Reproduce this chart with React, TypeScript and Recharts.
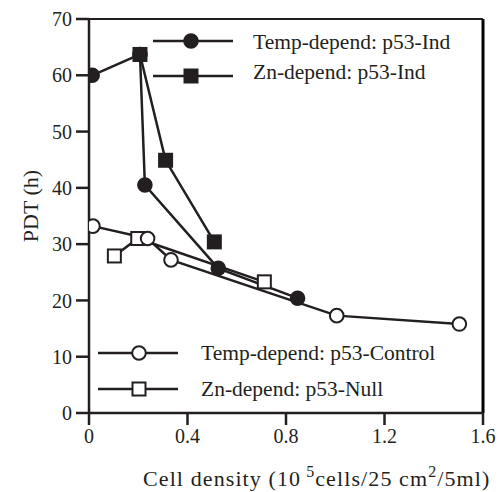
import React from "react";
import { LineChart, Line, XAxis, YAxis, ReferenceLine, Label } from "recharts";

const INK = "#231f20";
const FONT = "Liberation Serif";

// Temp-depend: p53-Ind (filled circles)
const tempIndX = [0.013, 0.207, 0.227, 0.525, 0.847];
const tempIndY = [60, 63.7, 40.5, 25.7, 20.4];
// Zn-depend: p53-Ind (filled squares)
const znIndX = [0.207, 0.311, 0.509];
const znIndY = [63.7, 44.9, 30.4];
// Temp-depend: p53-Control (open circles)
const tempCtlX = [0.016, 0.238, 0.333, 1.006, 1.504];
const tempCtlY = [33.2, 31.0, 27.2, 17.3, 15.8];
// Zn-depend: p53-Null (open squares)
const znNullX = [0.103, 0.198, 0.712];
const znNullY = [27.9, 31.0, 23.3];

const xTicks = [0, 0.4, 0.8, 1.2, 1.6];
const yTicks = [0, 10, 20, 30, 40, 50, 60, 70];

const zip = (xs: number[], ys: number[]) => xs.map((x, i) => ({ x, y: ys[i] }));

const W = 498;
const H = 492;

type Shape = "circle" | "square";

const Marker = ({ cx, cy, shape, filled }: { cx: number; cy: number; shape: Shape; filled: boolean }) => {
  const fill = filled ? INK : "#ffffff";
  if (shape === "circle") {
    return <circle cx={cx} cy={cy} r={6.8} fill={fill} stroke={INK} strokeWidth={2} />;
  }
  return <rect x={cx - 6.5} y={cy - 6.5} width={13} height={13} fill={fill} stroke={INK} strokeWidth={2} />;
};

const makeDot = (shape: Shape, filled: boolean) => (props: any) => {
  const { cx, cy, index } = props;
  if (cx == null || cy == null) return <g key={index} />;
  return (
    <g key={`${shape}-${filled}-${index}`}>
      <Marker cx={cx} cy={cy} shape={shape} filled={filled} />
    </g>
  );
};

const legendTop = [
  { name: "Temp-depend: p53-Ind", shape: "circle" as Shape, filled: true },
  { name: "Zn-depend: p53-Ind", shape: "square" as Shape, filled: true },
];
const legendBottom = [
  { name: "Temp-depend: p53-Control", shape: "circle" as Shape, filled: false },
  { name: "Zn-depend: p53-Null", shape: "square" as Shape, filled: false },
];

const XLabel = (props: any) => {
  return (
    <text x={143} y={486} fill={INK} fontFamily={FONT} fontSize={22} letterSpacing={1.1}>
      <tspan>Cell density (10</tspan>
      <tspan dx={5} dy={-9} fontSize={16}>5</tspan>
      <tspan dy={9}>cells/25 cm</tspan>
      <tspan dy={-9} fontSize={16}>2</tspan>
      <tspan dy={9}>/5ml)</tspan>
    </text>
  );
};

const LegendOverlay = () => {
  const top = [41, 76];
  const bottom = [353, 389];
  return (
    <svg width={W} height={H} style={{ position: "absolute", left: 0, top: 0, pointerEvents: "none" }}>
      {legendTop.map((it, i) => (
        <g key={it.name}>
          <line x1={153} x2={233} y1={top[i]} y2={top[i]} stroke={INK} strokeWidth={2.5} />
          <Marker cx={191} cy={top[i]} shape={it.shape} filled={it.filled} />
          <text x={253} y={top[i] + (i === 0 ? 8 : 3)} fill={INK} fontFamily={FONT} fontSize={21.5}>
            {it.name}
          </text>
        </g>
      ))}
      {legendBottom.map((it, i) => (
        <g key={it.name}>
          <line x1={98} x2={178} y1={bottom[i]} y2={bottom[i]} stroke={INK} strokeWidth={2.5} />
          <Marker cx={139} cy={bottom[i]} shape={it.shape} filled={it.filled} />
          <text x={201} y={bottom[i] + 7} fill={INK} fontFamily={FONT} fontSize={21.5}>
            {it.name}
          </text>
        </g>
      ))}
    </svg>
  );
};

export default function App() {
  const tick = { fill: INK, fontFamily: FONT, fontSize: 20 };
  return (
    <div style={{ position: "absolute", left: 0, top: 0, width: W, height: H, background: "#fff" }}>
      <LineChart width={W} height={H} margin={{ top: 19, right: 15, bottom: 0, left: 0 }}>
        <XAxis
          type="number"
          dataKey="x"
          domain={[0, 1.6]}
          ticks={xTicks}
          tickFormatter={(v: number) => (v === 0 ? "0" : v.toFixed(1))}
          height={79}
          tickSize={12}
          tickMargin={4}
          tick={tick}
          axisLine={{ stroke: INK, strokeWidth: 2.5 }}
          tickLine={{ stroke: INK, strokeWidth: 2.5 }}
          allowDataOverflow
        >
          <Label content={<XLabel />} />
        </XAxis>
        <YAxis
          type="number"
          dataKey="y"
          domain={[0, 70]}
          ticks={yTicks}
          width={89}
          tickSize={13}
          tickMargin={4}
          tick={tick}
          axisLine={{ stroke: INK, strokeWidth: 2.5 }}
          tickLine={{ stroke: INK, strokeWidth: 2.5 }}
          allowDataOverflow
        >
          <Label
            value="PDT (h)"
            angle={-90}
            position="insideLeft"
            offset={0}
            dx={30}
            dy={-10}
            style={{ fill: INK, fontFamily: FONT, fontSize: 22, textAnchor: "middle" }}
          />
        </YAxis>
        <ReferenceLine y={70} stroke={INK} strokeWidth={2} ifOverflow="visible" />
        <ReferenceLine x={1.6} stroke="#000" strokeWidth={3} ifOverflow="visible" />
        <Line
          data={zip(znNullX, znNullY)}
          dataKey="y"
          stroke={INK}
          strokeWidth={2.5}
          dot={makeDot("square", false)}
          activeDot={false}
          isAnimationActive={false}
        />
        <Line
          data={zip(tempCtlX, tempCtlY)}
          dataKey="y"
          stroke={INK}
          strokeWidth={2.5}
          dot={makeDot("circle", false)}
          activeDot={false}
          isAnimationActive={false}
        />
        <Line
          data={zip(tempIndX, tempIndY)}
          dataKey="y"
          stroke={INK}
          strokeWidth={2.5}
          dot={makeDot("circle", true)}
          activeDot={false}
          isAnimationActive={false}
        />
        <Line
          data={zip(znIndX, znIndY)}
          dataKey="y"
          stroke={INK}
          strokeWidth={2.5}
          dot={makeDot("square", true)}
          activeDot={false}
          isAnimationActive={false}
        />
      </LineChart>
      <LegendOverlay />
    </div>
  );
}
